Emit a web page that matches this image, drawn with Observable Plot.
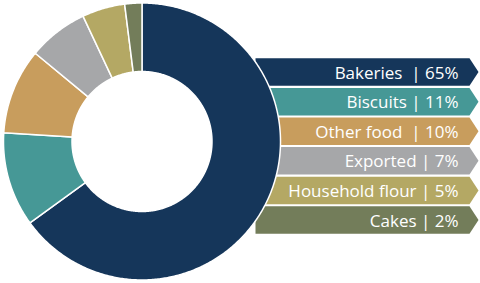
<!DOCTYPE html>
<html>
<head>
<meta charset="utf-8">
<script src="https://cdn.jsdelivr.net/npm/d3@7"></script>
<script src="https://cdn.jsdelivr.net/npm/@observablehq/plot@0.6"></script>
<style>
  html, body { margin: 0; padding: 0; background: #fff; }
  #chart svg { display: block; }
</style>
</head>
<body>
<div id="chart"></div>
<script>
// ---- data ----
const categories = ["Bakeries", "Biscuits", "Other food", "Exported", "Household flour", "Cakes"];
const values = [65, 11, 10, 7, 5, 2];
const labels = ["Bakeries\u00a0\u00a0| 65%", "Biscuits | 11%", "Other food\u00a0\u00a0| 10%", "Exported | 7%", "Household flour | 5%", "Cakes | 2%"];

// ---- styles / layout ----
const colors = ["#15365a", "#469896", "#c89d5d", "#a6a7a9", "#b4a864", "#737d5a"];
const W = 480, H = 283;
const cx = 141.5, cy = 141, rOuter = 138.5, rInner = 70;
const bandTop0 = 57.8, bandPitch = 29.6, bandH = 27.5, bandLeft = 255, bandRight = 469, bandTip = 478;
const textX = 458;

// slice polygons (clockwise from 12 o'clock)
const total = d3.sum(values);
const slicePts = [];
let acc = 0;
categories.forEach((c, i) => {
  const a0 = acc / total * 2 * Math.PI;
  acc += values[i];
  const a1 = acc / total * 2 * Math.PI;
  const n = Math.max(4, Math.ceil((a1 - a0) / 0.01));
  for (let k = 0; k <= n; k++) {
    const a = a0 + (a1 - a0) * k / n;
    slicePts.push({cat: c, x: cx + rOuter * Math.sin(a), y: cy - rOuter * Math.cos(a)});
  }
  for (let k = n; k >= 0; k--) {
    const a = a0 + (a1 - a0) * k / n;
    slicePts.push({cat: c, x: cx + rInner * Math.sin(a), y: cy - rInner * Math.cos(a)});
  }
});

// label arrow bands
const bandPts = [];
const textRows = [];
categories.forEach((c, i) => {
  const t = bandTop0 + i * bandPitch, b = t + bandH, m = (t + b) / 2;
  [[bandLeft, t], [bandRight, t], [bandTip, m], [bandRight, b], [bandLeft, b]]
    .forEach(([x, y]) => bandPts.push({cat: c, x, y}));
  textRows.push({cat: c, label: labels[i], x: textX, y: m});
});

const chart = Plot.plot({
  width: W,
  height: H,
  margin: 0,
  x: {domain: [0, W], range: [0, W], axis: null},
  y: {domain: [0, H], range: [0, H], axis: null},
  color: {domain: categories, range: colors},
  style: {background: "#fff"},
  marks: [
    Plot.line(bandPts, {x: "x", y: "y", z: "cat", fill: "cat", stroke: "none", curve: "linear-closed"}),
    Plot.line(slicePts, {x: "x", y: "y", z: "cat", fill: "cat", stroke: "white", strokeWidth: 1.5, strokeLinejoin: "round", curve: "linear-closed"}),
    Plot.text(textRows, {x: "x", y: "y", text: "label", textAnchor: "end", fill: "white", fontSize: 17, fontFamily: "Open Sans", dy: 1})
  ]
});
document.getElementById("chart").append(chart);
</script>
</body>
</html>
